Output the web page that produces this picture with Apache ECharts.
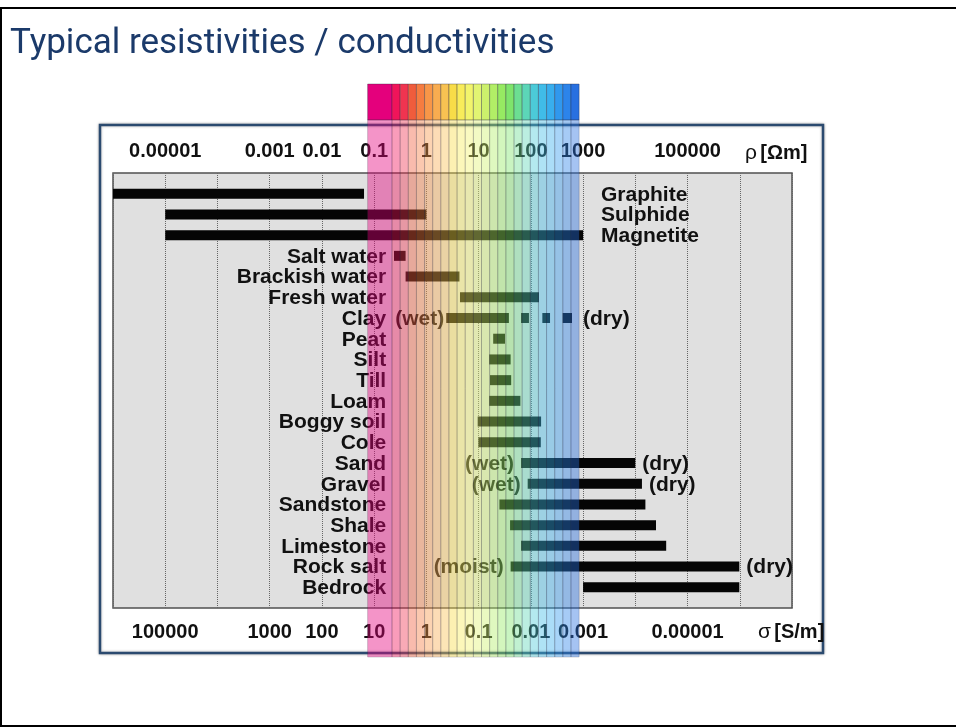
<!DOCTYPE html>
<html>
<head>
<meta charset="utf-8">
<title>Typical resistivities / conductivities</title>
<script src="https://cdn.jsdelivr.net/npm/echarts@6/dist/echarts.min.js"></script>
<style>
html, body { margin: 0; padding: 0; background: #fff; }
#chart { width: 956px; height: 727px; }
</style>
</head>
<body>
<div id="chart"></div>
<script>
// materials, top to bottom
var materials = ['Graphite', 'Sulphide', 'Magnetite', 'Salt water', 'Brackish water', 'Fresh water',
    'Clay', 'Peat', 'Silt', 'Till', 'Loam', 'Boggy soil', 'Cole', 'Sand', 'Gravel', 'Sandstone',
    'Shale', 'Limestone', 'Rock salt', 'Bedrock'];
// resistivity range of each material [Ohm m]
var rhoMin = [1e-6, 1e-5, 1e-5, 0.24, 0.40, 4.4, 2.4, 19, 16, 16.5, 16, 9.6, 9.9, 65, 87, 25, 40, 65, 41, 1000];
var rhoMax = [0.064, 1, 1000, 0.40, 4.3, 143, 38, 32, 41, 42, 63, 157, 155, 10000, 13400, 15600, 24900, 39000, 980000, 980000];
// dry clay, drawn as dashes
var clayDashes = [[65, 92], [166, 233], [407, 614]];
// where the name sits: 'before' the bar or 'after' it
var nameSide = ['after', 'after', 'after', 'before', 'before', 'before', 'before', 'before', 'before', 'before',
    'before', 'before', 'before', 'before', 'before', 'before', 'before', 'before', 'before', 'before'];
// condition notes: row, text, side of the bar
var notes = [
    [6, '(wet)', 'before'], [6, '(dry)', 'after'],
    [13, '(wet)', 'before'], [13, '(dry)', 'after'],
    [14, '(wet)', 'before'], [14, '(dry)', 'after'],
    [18, '(moist)', 'before'], [18, '(dry)', 'after']
];
// tick labels, at powers of ten of rho
var tickExp = [-5, -3, -2, -1, 0, 1, 2, 3, 5];
var rhoTickLabels = ['0.00001', '0.001', '0.01', '0.1', '1', '10', '100', '1000', '100000'];
var sigmaTickLabels = ['100000', '1000', '100', '10', '1', '0.1', '0.01', '0.001', '0.00001'];
// colour scale band over the chart
var bandRho = [0.075, 840];
var bandColors = ['#e4007c', '#f0145a', '#f03450', '#f05c3c', '#f67c40', '#f89648', '#f8ac50', '#f8c252',
    '#f8dc48', '#f8ec5a', '#f2f46c', '#e2f472', '#ccf06c', '#b2ee66', '#96ea62', '#7ee46c', '#6cde92',
    '#5cd6b8', '#4ccad8', '#40bce8', '#38aeee', '#3098ee', '#2c84ea', '#2870e0'];

var FONT = '"Liberation Sans", Arial, sans-serif';
var lg = Math.log10;

var barData = [];
for (var i = 0; i < materials.length; i++) {
    barData.push([lg(rhoMin[i]), lg(rhoMax[i]), i]);
}
clayDashes.forEach(function (d) {
    barData.push([lg(d[0]), lg(d[1]), 6]);
});

// text items: names and notes, placed off the bar ends
var textItems = [];
materials.forEach(function (m, i) {
    if (nameSide[i] == 'before') {
        textItems.push({ x: lg(0.17), row: i, text: m, align: 'right', dx: 0 });
    } else {
        textItems.push({ x: lg(2200), row: i, text: m, align: 'left', dx: 0 });
    }
});
notes.forEach(function (n) {
    var row = n[0];
    var end = rhoMax[row];
    var gap = 7;
    if (row == 6) {
        end = clayDashes[clayDashes.length - 1][1];
        gap = n[2] == 'before' ? 2 : 11;
    }
    if (n[2] == 'before') {
        textItems.push({ x: lg(rhoMin[row]), row: row, text: n[1], align: 'right', dx: -gap });
    } else {
        textItems.push({ x: lg(end), row: row, text: n[1], align: 'left', dx: gap });
    }
});

// stripes of the band, the first one three times as wide
var bandData = [];
var e0 = lg(bandRho[0]), e1 = lg(bandRho[1]);
var unit = (e1 - e0) / (bandColors.length + 2);
var pos = e0;
bandColors.forEach(function (c, i) {
    var w = i == 0 ? unit * 3 : unit;
    bandData.push([pos, pos + w, 0]);
    pos += w;
});

function tickLabel(list) {
    return function (v) {
        var k = tickExp.indexOf(Math.round(v));
        return k < 0 ? '' : list[k];
    };
}

function renderBar(params, api) {
    var p0 = api.coord([api.value(0), api.value(2)]);
    var p1 = api.coord([api.value(1), api.value(2)]);
    var h = 10;
    return {
        type: 'rect',
        shape: { x: p0[0], y: p0[1] - h / 2, width: p1[0] - p0[0], height: h },
        style: { fill: '#050505' }
    };
}

function renderText(params, api) {
    var item = textItems[params.dataIndex];
    var p = api.coord([item.x, item.row]);
    return {
        type: 'text',
        x: p[0] + item.dx,
        y: p[1] + 1,
        style: {
            text: item.text, align: item.align, verticalAlign: 'middle',
            fontFamily: FONT, fontWeight: 'bold', fontSize: 21, fill: '#111'
        }
    };
}

function renderBand(params, api) {
    var cs = params.coordSys;
    var x0 = api.coord([api.value(0), 0])[0];
    var x1 = api.coord([api.value(1), 0])[0];
    var top = cs.y - 89, stripBottom = cs.y - 53, bottom = cs.y + cs.height + 49;
    var c = bandColors[params.dataIndex];
    return {
        type: 'group',
        children: [{
            type: 'rect',
            shape: { x: x0, y: top, width: x1 - x0, height: stripBottom - top },
            style: { fill: c, stroke: 'rgba(40,40,60,0.35)', lineWidth: 1 }
        }, {
            type: 'rect',
            shape: { x: x0, y: stripBottom, width: x1 - x0, height: bottom - stripBottom },
            style: { fill: c, stroke: 'rgba(40,40,60,0.5)', lineWidth: 1, opacity: 0.42 }
        }]
    };
}

var myChart = echarts.init(document.getElementById('chart'));

var option = {
    animation: false,
    backgroundColor: '#fff',
    title: {
        text: 'Typical resistivities / conductivities',
        left: 5,
        top: 22,
        textStyle: { fontFamily: 'Roboto, sans-serif', fontWeight: 'normal', fontSize: 35, color: '#1b3a6a' }
    },
    graphic: [
        { type: 'rect', z: -10, shape: { x: 1, y: 8, width: 960, height: 718 }, style: { fill: '#fff', stroke: '#000', lineWidth: 2 } },
        { type: 'rect', z: -5, shape: { x: 100, y: 125, width: 723, height: 528 },
          style: { fill: '#fff', stroke: '#2b4a6f', lineWidth: 2.5, shadowBlur: 3, shadowColor: 'rgba(0,0,0,0.3)' } }
    ],
    grid: {
        left: 113, right: 164, top: 173, bottom: 119,
        show: true, backgroundColor: '#e0e0e0', borderColor: '#505050', borderWidth: 1.5
    },
    xAxis: [{
        type: 'value', position: 'top', min: -6, max: 7, interval: 1,
        axisLine: { show: false }, axisTick: { show: false },
        splitLine: { show: true, lineStyle: { type: 'dotted', color: '#666', width: 1 } },
        axisLabel: {
            formatter: tickLabel(rhoTickLabels), margin: 12,
            fontFamily: FONT, fontWeight: 'bold', fontSize: 20, color: '#111'
        },
        name: '{g|ρ} {b|[Ωm]}', nameLocation: 'end', nameGap: -47,
        nameTextStyle: {
            verticalAlign: 'bottom', padding: [0, 0, 30, 0],
            rich: {
                g: { fontFamily: FONT, fontSize: 21, color: '#111' },
                b: { fontFamily: FONT, fontSize: 20, fontWeight: 'bold', color: '#111' }
            }
        }
    }, {
        type: 'value', position: 'bottom', min: -6, max: 7, interval: 1,
        axisLine: { show: false }, axisTick: { show: false }, splitLine: { show: false },
        axisLabel: {
            formatter: tickLabel(sigmaTickLabels), margin: 14,
            fontFamily: FONT, fontWeight: 'bold', fontSize: 20, color: '#111'
        },
        name: '{g|σ} {b|[S/m]}', nameLocation: 'end', nameGap: -34,
        nameTextStyle: {
            verticalAlign: 'top', padding: [14, 0, 0, 0],
            rich: {
                g: { fontFamily: FONT, fontSize: 21, color: '#111' },
                b: { fontFamily: FONT, fontSize: 20, fontWeight: 'bold', color: '#111' }
            }
        }
    }],
    yAxis: {
        type: 'value', min: -1, max: 20, inverse: true, show: false
    },
    series: [{
        type: 'custom', name: 'ranges', z: 2,
        renderItem: renderBar,
        encode: { x: [0, 1], y: 2 },
        data: barData
    }, {
        type: 'custom', name: 'labels', z: 3,
        renderItem: renderText,
        data: textItems.map(function (t) { return [t.x, t.row]; })
    }, {
        type: 'custom', name: 'band', z: 6, clip: false, silent: true,
        renderItem: renderBand,
        encode: { x: [0, 1], y: 2 },
        data: bandData
    }]
};
myChart.setOption(option);
</script>
</body>
</html>
